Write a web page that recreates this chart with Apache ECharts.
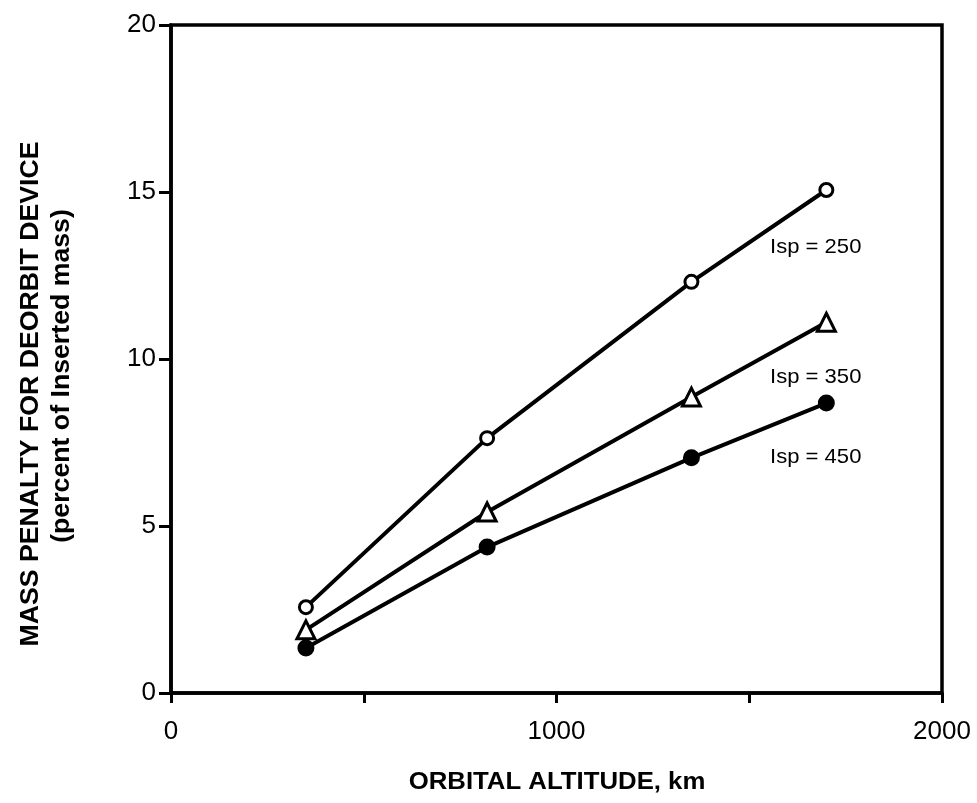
<!DOCTYPE html>
<html>
<head>
<meta charset="utf-8">
<script src="https://cdn.jsdelivr.net/npm/echarts@6/dist/echarts.min.js"></script>
<style>
  html, body { margin: 0; padding: 0; background: #fff; }
  #chart { width: 977px; height: 803px; }
</style>
</head>
<body>
<div id="chart"></div>
<script>
// Orbital altitude (km) at which the deorbit mass penalty was evaluated
const altitudes = [350, 820, 1350, 1700];

// Mass penalty (% of inserted mass) for each specific impulse
const isp250 = [2.57, 7.63, 12.31, 15.06];
const isp350 = [1.89, 5.42, 8.86, 11.1];
const isp450 = [1.35, 4.37, 7.04, 8.68];

const seriesNames = ['Isp = 250', 'Isp = 350', 'Isp = 450'];

// Tick labels
const xTickLabels = [0, 1000, 2000];
const yTickLabels = [0, 5, 10, 15, 20];

// Where the curve labels sit, in data units (altitude, penalty)
const labelAnchors = [[1554, 13.35], [1554, 9.46], [1554, 7.07]];

const pairs = (ys) => altitudes.map((x, i) => [x, ys[i]]);

const chart = echarts.init(document.getElementById('chart'), null, { renderer: 'canvas' });

const FONT = 'Liberation Sans, Arial, Helvetica, sans-serif';

function lineSeries(name, ys, symbol, size, fill) {
  return {
    name: name,
    type: 'line',
    data: pairs(ys),
    symbol: symbol,
    symbolSize: size,
    showAllSymbol: true,
    lineStyle: { color: '#000', width: 4 },
    itemStyle: { color: fill, borderColor: '#000', borderWidth: 3 },
    z: 3,
    animation: false
  };
}

chart.setOption({
  backgroundColor: '#fff',
  animation: false,
  grid: {
    left: 171, right: 35, top: 25, bottom: 110,
    show: true, borderColor: '#000', borderWidth: 3.5
  },
  xAxis: {
    type: 'value',
    min: 0, max: 2000, interval: 500,
    splitLine: { show: false },
    axisLine: { show: true, lineStyle: { color: '#000', width: 3.5 } },
    axisTick: { show: true, inside: false, length: 10, lineStyle: { color: '#000', width: 3 } },
    axisLabel: {
      margin: 26,
      color: '#000', fontFamily: FONT, fontSize: 26,
      formatter: (v) => xTickLabels.includes(v) ? String(v) : ''
    }
  },
  yAxis: {
    type: 'value',
    min: 0, max: 20, interval: 5,
    splitLine: { show: false },
    axisLine: { show: true, lineStyle: { color: '#000', width: 3.5 } },
    axisTick: { show: true, inside: false, length: 12, lineStyle: { color: '#000', width: 3 } },
    axisLabel: {
      margin: 15,
      color: '#000', fontFamily: FONT, fontSize: 26,
      formatter: (v) => yTickLabels.includes(v) ? String(v) : ''
    }
  },
  series: [
    lineSeries(seriesNames[0], isp250, 'circle', 13, '#fff'),
    lineSeries(seriesNames[1], isp350, 'triangle', 18, '#fff'),
    lineSeries(seriesNames[2], isp450, 'circle', 14, '#000')
  ]
});

// Axis titles and curve labels
const graphics = [
  {
    type: 'text',
    position: [557, 783],
    scaleX: 1.12,
    style: {
      text: 'ORBITAL ALTITUDE, km',
      fontFamily: FONT, fontWeight: 'bold', fontSize: 23,
      fill: '#000', align: 'center', verticalAlign: 'middle'
    }
  },
  {
    type: 'text',
    position: [31, 394],
    rotation: Math.PI / 2,
    style: {
      text: 'MASS PENALTY FOR DEORBIT DEVICE',
      fontFamily: FONT, fontWeight: 'bold', fontSize: 26.7,
      fill: '#000', align: 'center', verticalAlign: 'middle'
    }
  },
  {
    type: 'text',
    position: [62, 376],
    rotation: Math.PI / 2,
    style: {
      text: '(percent of Inserted mass)',
      fontFamily: FONT, fontWeight: 'bold', fontSize: 26.7,
      fill: '#000', align: 'center', verticalAlign: 'middle'
    }
  }
];

labelAnchors.forEach((a, i) => {
  const p = chart.convertToPixel({ gridIndex: 0 }, a);
  graphics.push({
    type: 'text',
    position: p,
    scaleX: 1.05,
    style: {
      text: seriesNames[i],
      fontFamily: FONT, fontSize: 21,
      fill: '#000', align: 'left', verticalAlign: 'middle'
    }
  });
});

chart.setOption({ graphic: graphics });
</script>
</body>
</html>
